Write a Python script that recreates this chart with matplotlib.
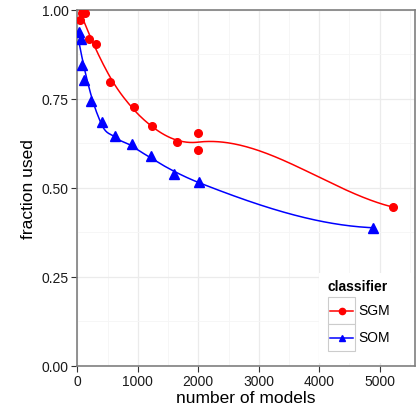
import numpy as np
import matplotlib
matplotlib.use("Agg")
from matplotlib import pyplot as plt
from matplotlib.lines import Line2D
from matplotlib.patches import Rectangle

plt.rcParams['font.family'] = ['Liberation Sans', 'DejaVu Sans']

# data
sgm_models = [40, 75, 120, 195, 306, 537, 939, 1231, 1645, 1992, 1992, 5215]
sgm_frac = [0.972, 0.99, 0.992, 0.919, 0.903, 0.796, 0.726, 0.673, 0.628, 0.653, 0.606, 0.446]
som_models = [25, 53, 74, 113, 228, 405, 631, 901, 1220, 1600, 2020, 4884]
som_frac = [0.937, 0.918, 0.844, 0.802, 0.743, 0.685, 0.645, 0.622, 0.589, 0.540, 0.516, 0.388]
classifiers = ['SGM', 'SOM']
colors = ['#FF0000', '#0000FF']
markers = ['o', '^']


def local_fit(x, y, x0, span):
    # local quadratic with tricube weights, returns value and slope at x0
    n = len(x)
    q = int(np.floor(n * span))
    d = np.abs(x - x0)
    h = np.sort(d)[q - 1]
    w = np.clip(1 - (d / h) ** 3, 0, None) ** 3
    A = np.vstack([np.ones(n), x - x0, (x - x0) ** 2]).T
    W = np.sqrt(w)
    coef = np.linalg.lstsq(A * W[:, None], y * W, rcond=None)[0]
    return coef[0], coef[1]


def kd_vertices(xs, fc, lo, hi):
    # 1-d version of loess's kd tree: split cells at the median point
    verts = []

    def split(l, u, a, b):
        if u - l + 1 <= fc:
            return
        m = (l + u) // 2
        if xs[m] == xs[m + 1] and m + 1 < u:
            m = m + 1
        t = xs[m]
        if t == a or t == b:
            return
        verts.append(t)
        split(l, m, a, t)
        split(m + 1, u, t, b)

    split(0, len(xs) - 1, lo, hi)
    return verts


def loess(x, y, xs, span=0.75, cell=0.2):
    # like R's loess with surface="interpolate": fit at kd-tree vertices,
    # cubic Hermite in between
    x = np.asarray(x, float)
    y = np.asarray(y, float)
    xsrt = np.sort(x)
    t = 0.005 * (xsrt[-1] - xsrt[0])
    lo, hi = xsrt[0] - t, xsrt[-1] + t
    fc = int(np.floor(len(x) * span * cell))
    verts = np.unique([lo, hi] + kd_vertices(list(xsrt), fc, lo, hi))
    vals = np.array([local_fit(x, y, v, span) for v in verts])
    out = []
    for x0 in xs:
        i = min(max(np.searchsorted(verts, x0) - 1, 0), len(verts) - 2)
        a, b = verts[i], verts[i + 1]
        hh = b - a
        s = (x0 - a) / hh
        h00 = 2 * s**3 - 3 * s**2 + 1
        h10 = s**3 - 2 * s**2 + s
        h01 = -2 * s**3 + 3 * s**2
        h11 = s**3 - s**2
        out.append(h00 * vals[i, 0] + h10 * hh * vals[i, 1]
                   + h01 * vals[i + 1, 0] + h11 * hh * vals[i + 1, 1])
    return np.array(out)


fig = plt.figure(figsize=(4.17, 4.14), dpi=100)
ax = fig.add_axes([77.3 / 417, 1 - 367 / 414, (414.7 - 77.3) / 417, (367 - 10.7) / 414])

series = [(sgm_models, sgm_frac), (som_models, som_frac)]
for (xv, yv), c, m in zip(series, colors, markers):
    xs = np.linspace(min(xv), max(xv), 200)
    ax.plot(xs, loess(xv, yv, xs), color=c, lw=1.1, zorder=3, clip_on=True)
    ax.plot(xv, yv, ls='none', marker=m, color=c, ms=5.5 if m == 'o' else 6.5,
            zorder=4, clip_on=True)

ax.set_xlim(0, 5578)
ax.set_ylim(0, 1)
ax.set_xticks([0, 1000, 2000, 3000, 4000, 5000])
ax.set_xticks([500, 1500, 2500, 3500, 4500, 5500], minor=True)
ax.set_yticks([0, 0.25, 0.5, 0.75, 1.0])
ax.set_yticklabels(['0.00', '0.25', '0.50', '0.75', '1.00'])
ax.set_yticks([0.125, 0.375, 0.625, 0.875], minor=True)
ax.grid(which='major', color='#EBEBEB', lw=0.9, zorder=0)
ax.grid(which='minor', color='#F5F5F5', lw=0.6, zorder=0)
ax.set_axisbelow(True)
for s in ax.spines.values():
    s.set_color('#7F7F7F')
    s.set_linewidth(1.2)
ax.tick_params(which='major', length=4, width=0.8, color='#333333',
               labelsize=10, labelcolor='#1A1A1A', pad=2)
ax.tick_params(which='minor', length=0)
ax.set_xlabel('number of models', fontsize=12.5, labelpad=1)
ax.set_ylabel('fraction used', fontsize=12.5, labelpad=4)


def px(xp, yp):
    # figure pixel (from top-left) to figure fraction
    return xp / 417, 1 - yp / 414


# legend drawn by hand, ggplot style
fig.patches.append(Rectangle(px(319, 364), 95 / 417, 90 / 414, transform=fig.transFigure,
                             facecolor='white', edgecolor='none', zorder=5))
fig.text(*px(328, 287), 'classifier', fontsize=10, fontweight='bold', va='center', zorder=6)
for i, (lab, c, m) in enumerate(zip(classifiers, colors, markers)):
    top = 298 + i * 27
    fig.patches.append(Rectangle(px(328, top + 27), 27 / 417, 27 / 414, transform=fig.transFigure,
                                 facecolor='white', edgecolor='#CCCCCC', lw=0.8, zorder=6))
    xa, ya = px(330, top + 13.5)
    xb, _ = px(353, top + 13.5)
    fig.lines.append(Line2D([xa, xb], [ya, ya], transform=fig.transFigure, color=c, lw=1.1, zorder=7))
    fig.lines.append(Line2D([(xa + xb) / 2], [ya], transform=fig.transFigure, color=c, marker=m,
                            ms=4.5, ls='none', zorder=7))
    fig.text(*px(358, top + 13.5), lab, fontsize=10, va='center', zorder=7)

fig.savefig('out.png', dpi=100)
